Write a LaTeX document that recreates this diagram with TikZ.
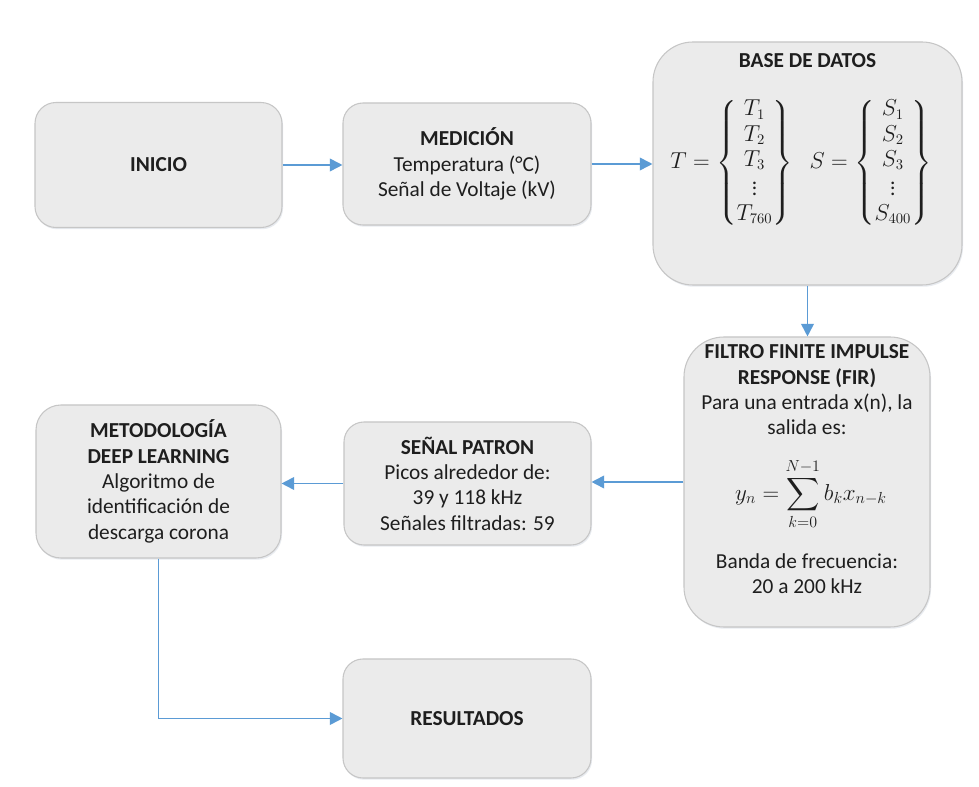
\documentclass[tikz,border=0pt]{standalone}
\usepackage{amsmath}
\usepackage{fontspec}
\setmainfont{Carlito}
\usetikzlibrary{arrows.meta,shadows}

\definecolor{boxfill}{HTML}{EBEBEB}
\definecolor{boxline}{HTML}{C6C6C6}
\definecolor{flow}{HTML}{5B9BD5}
\definecolor{ink}{HTML}{1E1E1E}
\definecolor{shade}{HTML}{B4C0CE}

\tikzset{
  px/.style={x=0.75pt,y=-0.75pt},
  stage/.style={draw=boxline, line width=0.8pt, fill=boxfill,
    inner sep=0pt, align=center, text=ink,
    font=\fontsize{16}{19}\selectfont,
    drop shadow={shadow xshift=0.8pt, shadow yshift=-1.3pt,
      fill=shade, opacity=0.3}},
  bw/.style={minimum width=#1*0.75pt},
  bh/.style={minimum height=#1*0.75pt},
  rc/.style={rounded corners=#1*0.75pt},
  txt/.style={align=center, text=ink, inner sep=0pt,
    font=\fontsize{16}{19}\selectfont},
  flowline/.style={draw=flow, line width=1.3pt,
    -{Triangle[length=9.5pt,width=9.5pt]}},
}

\begin{document}
\begin{tikzpicture}[px]
  \useasboundingbox[fill=white] (0,0) rectangle (979,787);

  % top row
  \node[stage, bw=247, bh=125, rc=21] (inicio) at (158.5,165) {\textbf{INICIO}};
  \node[stage, bw=248, bh=122, rc=20] (medicion) at (467,164)
    {\textbf{MEDICIÓN}\\Temperatura (°C)\\Señal de Voltaje (kV)};
  \node[stage, bw=309, bh=243, rc=40] (datos) at (807.5,163.5) {};
  \node[txt] (datostit) at (807.5,61) {\textbf{BASE DE DATOS}};
  \node[txt] (datosmat) at (801,163)
    {$T=\left\{\begin{matrix}T_1\\T_2\\T_3\\\vdots\\T_{760}\end{matrix}\right\}
      \;\; S=\left\{\begin{matrix}S_1\\S_2\\S_3\\\vdots\\S_{400}\end{matrix}\right\}$};

  % FIR filter block
  \node[stage, bw=246, bh=290, rc=40] (fir) at (807,482) {};
  \node[txt] (firtxt) at (807,390)
    {\textbf{FILTRO FINITE IMPULSE}\\\textbf{RESPONSE (FIR)}\\Para una entrada x(n), la\\salida es:};
  \node[txt, font=\fontsize{17.5}{21}\selectfont] (firsum) at (811,494)
    {$\displaystyle y_n=\sum_{k=0}^{N-1} b_k x_{n-k}$};
  \node[txt] (firband) at (807,574) {Banda de frecuencia:\\20 a 200 kHz};

  % middle row
  \node[stage, bw=247, bh=123, rc=20] (senal) at (467.5,483.5)
    {\textbf{SEÑAL PATRON}\\Picos alrededor de:\\39 y 118 kHz\\Señales filtradas: 59};
  \node[stage, bw=245, bh=153, rc=25] (metodo) at (158.5,481.5)
    {\textbf{METODOLOGÍA}\\\textbf{DEEP LEARNING}\\Algoritmo de\\identificación de\\descarga corona};

  % bottom
  \node[stage, bw=248, bh=119, rc=20] (result) at (467,718.5) {\textbf{RESULTADOS}};

  % flow
  \draw[flowline] (inicio.east) -- (inicio.east -| medicion.west);
  \draw[flowline] (medicion.east) -- (medicion.east -| datos.west);
  \draw[flowline] (datos.south) -- (datos.south |- fir.north);
  \draw[flowline] (fir.west) -- (fir.west -| senal.east);
  \draw[flowline] (senal.west) -- (senal.west -| metodo.east);
  \draw[flowline] (metodo.south) |- (result.west);
\end{tikzpicture}
\end{document}
